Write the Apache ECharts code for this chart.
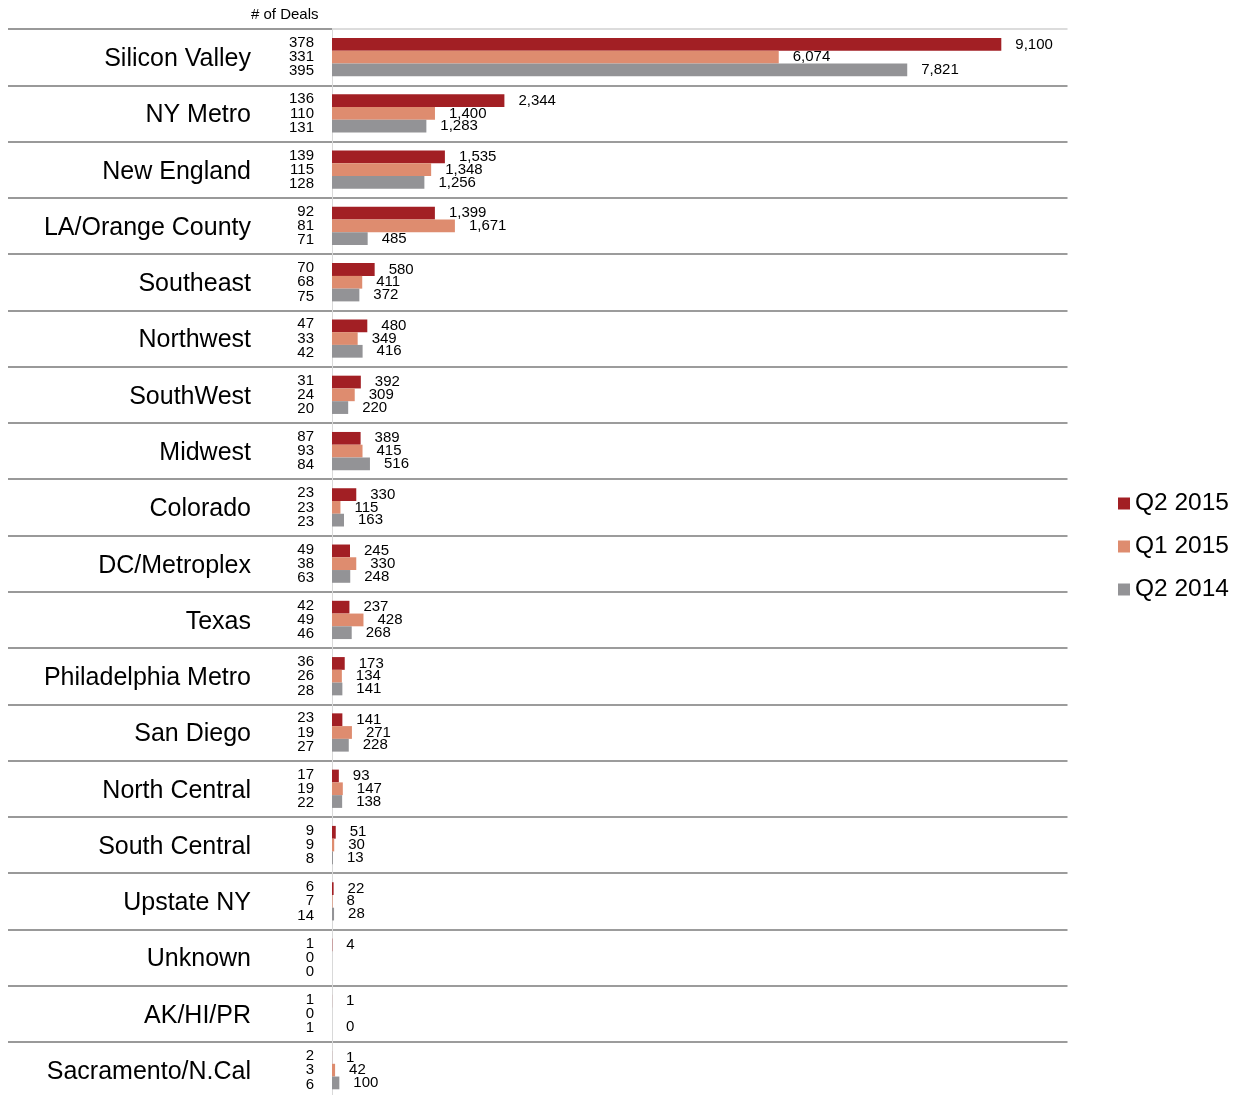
<!DOCTYPE html>
<html>
<head>
<meta charset="utf-8">
<script src="https://cdn.jsdelivr.net/npm/echarts@6/dist/echarts.min.js"></script>
<style>
  html, body { margin: 0; padding: 0; background: #fff; overflow: hidden; }
  #chart { width: 1241px; height: 1100px; }
</style>
</head>
<body>
<div id="chart"></div>
<script>
const categories = ['Silicon Valley', 'NY Metro', 'New England', 'LA/Orange County', 'Southeast', 'Northwest', 'SouthWest', 'Midwest', 'Colorado', 'DC/Metroplex', 'Texas', 'Philadelphia Metro', 'San Diego', 'North Central', 'South Central', 'Upstate NY', 'Unknown', 'AK/HI/PR', 'Sacramento/N.Cal'];
const seriesNames = ['Q2 2015', 'Q1 2015', 'Q2 2014'];

// Amount invested (bar values)
const amountQ2_2015 = [9100, 2344, 1535, 1399, 580, 480, 392, 389, 330, 245, 237, 173, 141, 93, 51, 22, 4, 1, 1];
const amountQ1_2015 = [6074, 1400, 1348, 1671, 411, 349, 309, 415, 115, 330, 428, 134, 271, 147, 30, 8, null, null, 42];
const amountQ2_2014 = [7821, 1283, 1256, 485, 372, 416, 220, 516, 163, 248, 268, 141, 228, 138, 13, 28, null, 0, 100];

// # of Deals
const dealsQ2_2015 = [378, 136, 139, 92, 70, 47, 31, 87, 23, 49, 42, 36, 23, 17, 9, 6, 1, 1, 2];
const dealsQ1_2015 = [331, 110, 115, 81, 68, 33, 24, 93, 23, 38, 49, 26, 19, 19, 9, 7, 0, 0, 3];
const dealsQ2_2014 = [395, 131, 128, 71, 75, 42, 20, 84, 23, 63, 46, 28, 27, 22, 8, 14, 0, 1, 6];

const colors = ['#A21F24', '#DE8C6F', '#939396'];
const FONT = 'Liberation Sans, Arial, sans-serif';

const chart = echarts.init(document.getElementById('chart'), null, { renderer: 'canvas' });

function mkSeries(name, data, color) {
  return {
    name: name,
    type: 'bar',
    data: data,
    barGap: '0%',
    barCategoryGap: '32%',
    itemStyle: { color: color },
    label: {
      show: true,
      position: 'right',
      distance: 14,
      fontFamily: FONT,
      fontSize: 15,
      color: '#000',
      formatter: p => (p.value === null || p.value === undefined) ? '' : Number(p.value).toLocaleString('en-US')
    },
    emphasis: { disabled: true },
    animation: false
  };
}

// first split line (top edge of plot) is lighter than the others
const splitColors = ['#dcdcdc'].concat(new Array(categories.length).fill('#9c9c9c'));

const option = {
  animation: false,
  backgroundColor: '#fff',
  textStyle: { fontFamily: FONT },
  title: {
    text: '# of Deals',
    left: 251,
    top: 7,
    padding: 0,
    textStyle: { fontFamily: FONT, fontSize: 15, fontWeight: 'normal', color: '#000' }
  },
  legend: {
    orient: 'vertical',
    left: 1118,
    top: 491,
    padding: 0,
    icon: 'rect',
    itemWidth: 12,
    itemHeight: 12,
    itemGap: 18,
    data: seriesNames,
    textStyle: { fontFamily: FONT, fontSize: 24.5, color: '#000', lineHeight: 24 }
  },
  grid: {
    left: 332,
    top: 29,
    width: 735.5,
    height: 1069.3,
    containLabel: false
  },
  xAxis: {
    type: 'value',
    min: 0,
    max: 10000,
    show: false,
    splitLine: { show: false }
  },
  yAxis: [
    {
      type: 'category',
      data: categories,
      inverse: true,
      position: 'left',
      axisLine: { show: true, lineStyle: { color: '#d9d9d9', width: 1 } },
      axisTick: { show: true, length: 324, lineStyle: { color: '#999999', width: 2 } },
      splitLine: { show: true, lineStyle: { color: splitColors, width: 2 } },
      axisLabel: {
        margin: 81,
        align: 'right',
        formatter: v => '{n|' + v + '}',
        rich: {
          n: { fontFamily: FONT, fontSize: 25, color: '#000', padding: [4, 0, 0, 0] }
        }
      }
    },
    {
      type: 'category',
      data: categories,
      inverse: true,
      position: 'left',
      axisLine: { show: false },
      axisTick: { show: false },
      splitLine: { show: false },
      axisLabel: {
        margin: 18,
        fontFamily: FONT,
        fontSize: 15,
        lineHeight: 14.2,
        color: '#000',
        align: 'right',
        formatter: (v, i) => [dealsQ2_2015[i], dealsQ1_2015[i], dealsQ2_2014[i]].join('\n')
      }
    }
  ],
  series: [
    mkSeries(seriesNames[0], amountQ2_2015, colors[0]),
    mkSeries(seriesNames[1], amountQ1_2015, colors[1]),
    mkSeries(seriesNames[2], amountQ2_2014, colors[2])
  ]
};

chart.setOption(option);
</script>
</body>
</html>
